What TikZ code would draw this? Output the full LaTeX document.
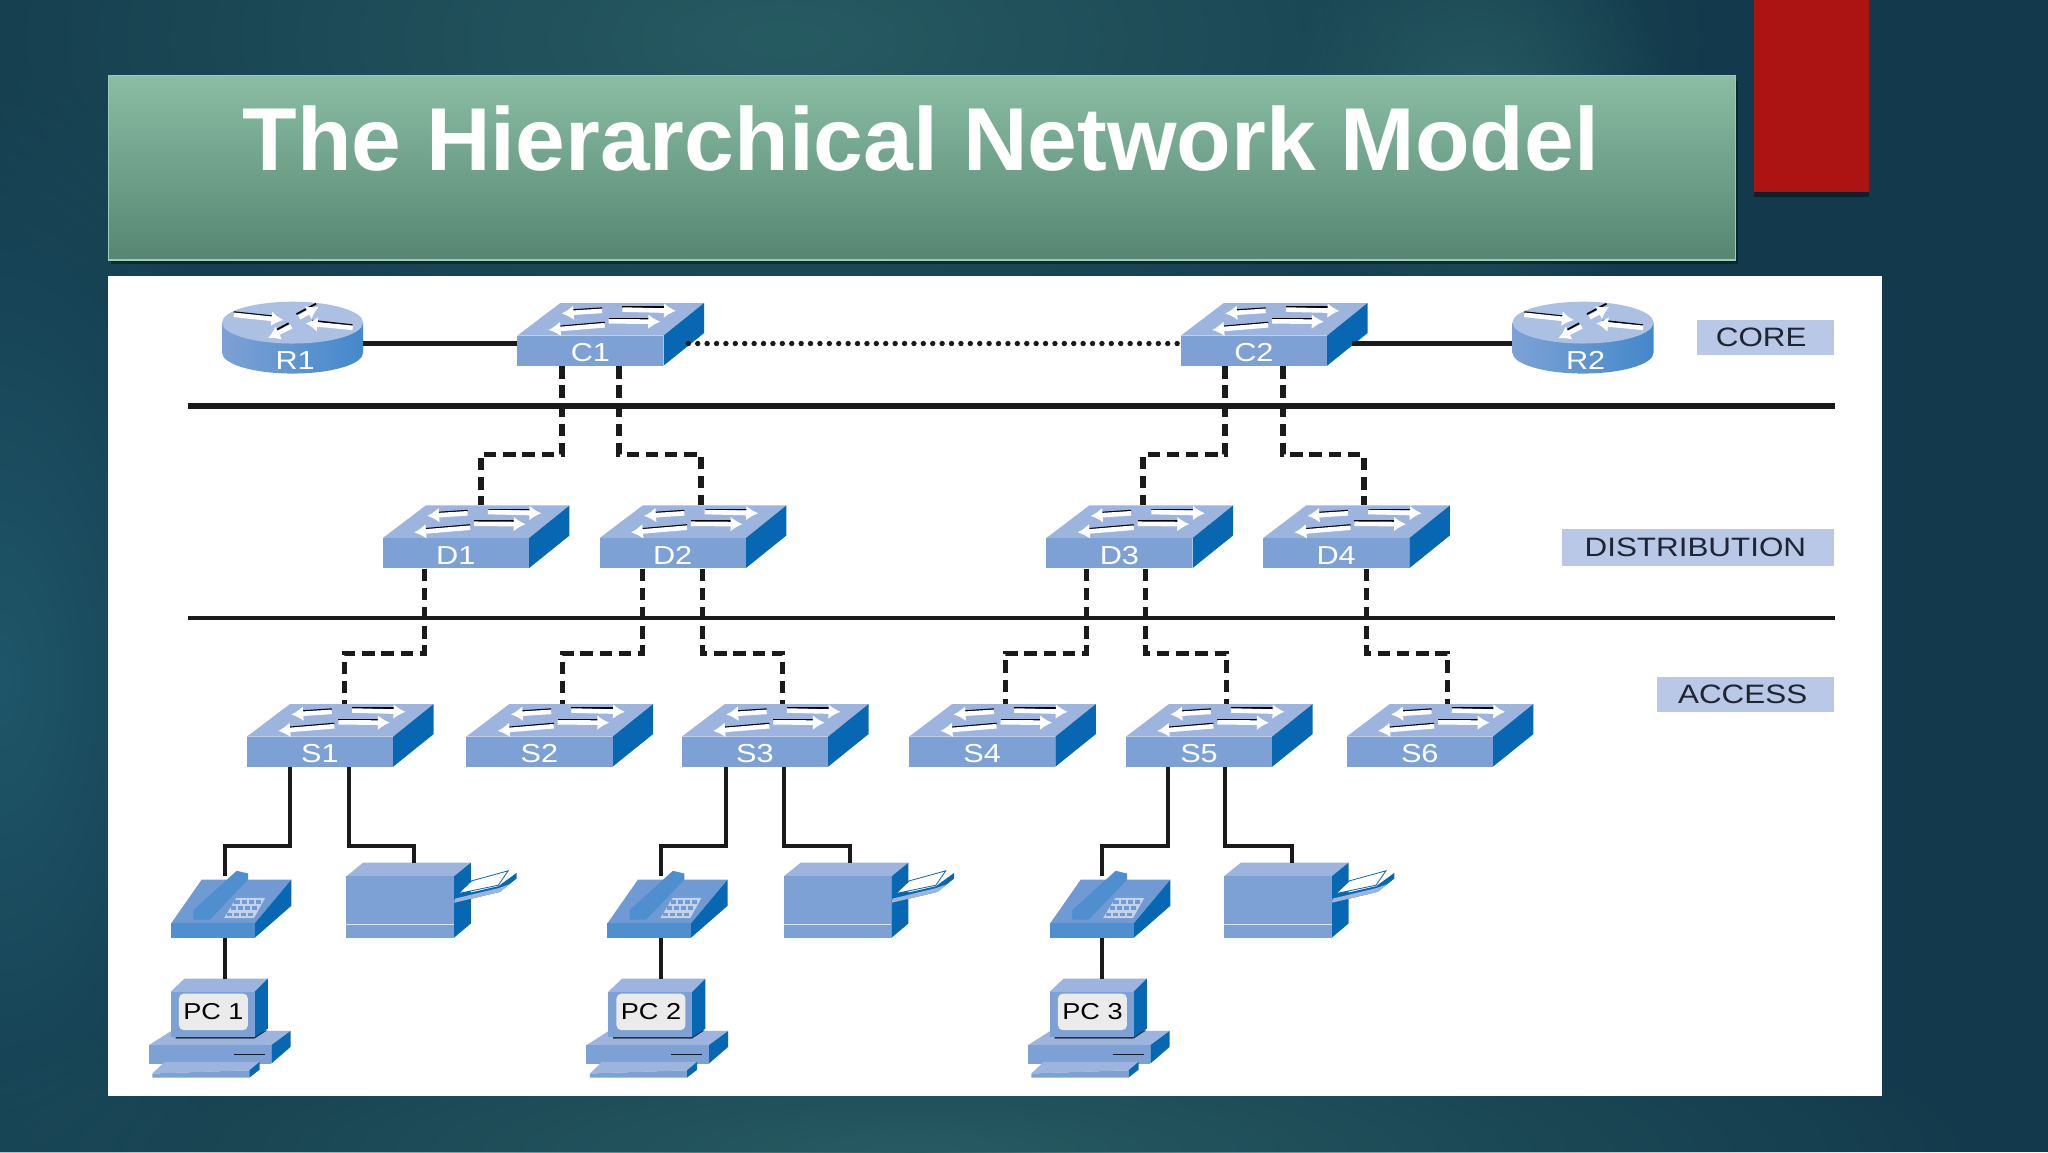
\documentclass[tikz,border=0pt]{standalone}
\usepackage{xcolor}
\usepackage{fontspec}
\setmainfont{Liberation Sans}
\newfontfamily\wideface[FakeStretch=1.18]{Liberation Sans}
\usetikzlibrary{arrows.meta}
\usetikzlibrary{fadings}

\definecolor{slidedark}{HTML}{133A4C}
\definecolor{slideglow}{HTML}{275B62}
\definecolor{sideglow}{HTML}{1F5669}
\definecolor{titletop}{HTML}{8ABDA4}
\definecolor{titlebot}{HTML}{568672}
\definecolor{titleedge}{HTML}{9CCBB6}
\definecolor{redtab}{HTML}{AB1413}
\definecolor{netfront}{HTML}{7DA1D5}
\definecolor{nettop}{HTML}{9DB5DE}
\definecolor{netside}{HTML}{0767B2}
\definecolor{phonefront}{HTML}{4F8ECF}
\definecolor{phonetop}{HTML}{709AD3}
\definecolor{tagfill}{HTML}{B8C8E6}
\definecolor{tagtext}{HTML}{1F2433}
\definecolor{wire}{HTML}{1A1A1A}

\tikzfading[name=glowfade, inner color=transparent!0, outer color=transparent!100]

\tikzset{
  front/.style={fill=netfront},
  topface/.style={fill=nettop},
  sideface/.style={fill=netside},
  devlabel/.style={inner sep=0pt, text=white, font=\wideface\fontsize{13}{15}\selectfont},
  tag/.style={fill=tagfill, text=tagtext, inner sep=0pt, font=\wideface\fontsize{13.3}{15}\selectfont},
  coredash/.style={wire, line width=2.9pt, dash pattern=on 6.2pt off 3.4pt},
  dashlink/.style={wire, line width=2.5pt, dash pattern=on 6.2pt off 3.4pt},
  dotlink/.style={wire, line width=2.7pt, line cap=round, dash pattern=on 0pt off 4.7pt},
  solidlink/.style={wire, line width=2.1pt},
  fatlink/.style={wire, line width=2.5pt},
  rule/.style={wire, line width=3.2pt},
  thinrule/.style={wire, line width=2.3pt},
  whitearrow/.style={white, line width=2.3pt, -{Latex[length=6pt,width=7.5pt]}},
  blackedge/.style={black, line width=.9pt}
}

% four crossing arrows on top of a switch
\newcommand{\switcharrows}{
  \draw[blackedge] (65,-44) -- (42,-42.5);
  \draw[whitearrow] (65,-42) -- (34,-40);
  \draw[blackedge] (80.5,-45) -- (114,-45);
  \draw[whitearrow] (80.5,-43) -- (121.5,-42);
  \draw[blackedge] (67,-33) -- (32,-30);
  \draw[whitearrow] (67,-31) -- (24,-27.4);
  \draw[blackedge] (70,-36) -- (102,-36);
  \draw[whitearrow] (70,-34) -- (109.5,-33.7);
}

% name, left of the front face, bottom of the front face, text
\newcommand{\netswitch}[4]{
  \begin{scope}[shift={(#2,#3)}]
    \fill[topface] (0,-23) -- (33,-48) -- (143,-48) -- (112,-23) -- cycle;
    \fill[sideface] (112,-23) -- (143,-48) -- (143,-25) -- (112,0) -- cycle;
    \node[devlabel, front, minimum width=73.1pt, minimum height=15pt] (#1) at (56,-11.5)
      {\raisebox{-5.5pt}[0pt][0pt]{#4}};
    \coordinate (#1T) at (70,-48);
    \coordinate (#1S) at (131,-17);
    \switcharrows
  \end{scope}
}

% name, centre, height of the link, text
\newcommand{\netrouter}[4]{
  \begin{scope}[shift={(#2,#3)}]
    \shade[left color=netfront, middle color=nettop, right color=phonefront!85!netside]
      (-54,-16) -- (-54,7) arc[start angle=180, end angle=0, x radius=54, y radius=16] -- (54,-16) -- cycle;
    \fill[fill=nettop!85!white] (0,-16) ellipse [x radius=54, y radius=16];
    \draw[blackedge] (-45,-24) -- (-12,-20.5);
    \draw[whitearrow] (-45,-22) -- (-7,-18);
    \draw[blackedge] (3,-22.5) -- (18,-30.5);
    \draw[whitearrow] (5,-20) -- (20,-28);
    \draw[blackedge] (46,-14) -- (15,-17.5);
    \draw[whitearrow] (46,-12) -- (10,-15.5);
    \draw[blackedge] (-3,-15.5) -- (-14,-9.5);
    \draw[whitearrow] (-1,-13) -- (-19,-4);
    \node[devlabel, minimum width=70.5pt, minimum height=30pt] (#1) at (0,0)
      {\kern2.6pt\raisebox{-13pt}[0pt][0pt]{#4}};
  \end{scope}
}

% name, front left, front bottom
\newcommand{\netphone}[3]{
  \begin{scope}[shift={(#2,#3)}]
    \fill[phonetop] (0,-11) -- (23.4,-44.5) -- (92,-44.5) -- (64,-11) -- cycle;
    \fill[sideface] (64,-11) -- (92,-44.5) -- (92,-24.5) -- (64,0) -- cycle;
    \node[fill=phonefront, inner sep=0pt, minimum width=41.8pt, minimum height=7.2pt] (#1) at (32,-5.5) {};
    \coordinate (#1T) at (41,-47);
    \fill[phonefront] (17,-21.2) -- (17,-14) -- (29.7,-14) -- (59,-44.6) -- (59,-49.2)
      -- (50.2,-51.3) -- cycle;
    \fill[nettop!60!white] (40.5,-15) -- (63.4,-15) -- (72,-30.5) -- (50,-30.5) -- cycle;
    \foreach \row in {0,1,2}
      \foreach \col in {0,1,2,3}
        \fill[phonetop] ({42.5+\col*5.4+\row*3},{-16.5-\row*4.8}) rectangle ++(4,-2.8);
  \end{scope}
}

% name, front left, front bottom
\newcommand{\netprinter}[3]{
  \begin{scope}[shift={(#2,#3)}]
    \fill[topface] (0,-47) -- (13,-57.5) -- (95.5,-57.5) -- (82.5,-47) -- cycle;
    \fill[sideface] (82.5,-47) -- (95.5,-57.5) -- (95.5,-11) -- (82.5,0) -- cycle;
    \node[front, inner sep=0pt, minimum width=53.9pt, minimum height=30.7pt] (#1) at (41.25,-23.5) {};
    \coordinate (#1T) at (50,-57.5);
    \draw[white!70!netfront, line width=.6pt] (0,-10.3) -- (82.5,-10.3);
    \fill[netside] (82.6,-26.8) -- (117.8,-35.2) -- (130.5,-45.4) -- (130.5,-49.7)
      -- (116.5,-39.5) -- (83.3,-31.9) -- cycle;
    \fill[nettop] (82.6,-26.8) -- (117.8,-35.2) -- (125,-41) -- (116.5,-38) -- (83.3,-30) -- cycle;
    \filldraw[fill=white, draw=netside, line width=.4pt] (85.9,-33.9) -- (116.5,-40.3) -- (124.1,-51.3) -- (96.1,-43.6) -- cycle;
  \end{scope}
}

% name, left of the case, bottom of the keyboard, text
\newcommand{\netpc}[4]{
  \begin{scope}[shift={(#2,#3)}]
    \fill[topface] (0,-24.8) -- (17.1,-35.7) -- (108.5,-35.7) -- (93.7,-24.8) -- cycle;
    \fill[sideface] (93.7,-24.8) -- (108.5,-35.7) -- (108.5,-23.5) -- (93.7,-10.7) -- cycle;
    \fill[front] (0,-24.8) rectangle (93.7,-10.7);
    \draw[wire, line width=.6pt] (64.8,-17.9) -- (88.6,-17.9);
    \fill[topface] (2.6,-3.1) -- (12,-12) -- (84.7,-12) -- (77,-5.6) -- cycle;
    \fill[front] (2.6,-3.1) -- (77,-5.6) -- (77,0) -- (2.6,0) -- cycle;
    \fill[sideface] (77,-5.6) -- (84.7,-12) -- (84.7,-6) -- (77,0) -- cycle;
    \fill[wire!85!nettop] (20.4,-29.9) -- (80.9,-29.9) -- (90.6,-36.2) -- (80,-36.2) -- (20.4,-31) -- cycle;
    \fill[topface] (16.6,-65.6) -- (27.3,-75.8) -- (91.1,-75.8) -- (80.9,-65.6) -- cycle;
    \fill[sideface] (80.9,-65.6) -- (91.1,-75.8) -- (91.1,-37.5) -- (80.9,-31.1) -- cycle;
    \fill[front] (16.6,-65.6) rectangle (80.9,-31.1);
    \node[rounded corners=2.5pt, fill=black!8, text=black, inner sep=0pt,
      minimum width=34.5pt, minimum height=18.3pt,
      font=\wideface\fontsize{11.5}{13}\selectfont] (#1) at (49.4,-50.3) {#4};
    \coordinate (#1T) at (50,-75.8);
  \end{scope}
}

\begin{document}
\begin{tikzpicture}[x=0.65306pt, y=-0.65306pt]
  \useasboundingbox (0,0) rectangle (1568,882);

  % slide
  \fill[slidedark] (0,0) rectangle (1568,882);
  \fill[slideglow, path fading=glowfade] (600,30) ellipse [x radius=720, y radius=300];
  \fill[slideglow, path fading=glowfade] (1130,90) ellipse [x radius=150, y radius=170];
  \fill[sideglow, path fading=glowfade] (0,520) ellipse [x radius=220, y radius=480];
  \fill[slideglow, path fading=glowfade] (700,882) ellipse [x radius=820, y radius=150];
  \fill[black!70!slidedark, opacity=.6] (1343,4) rectangle (1431,151);
  \fill[redtab] (1343,0) rectangle (1431,147);
  \fill[black!70!slidedark, opacity=.5] (85,62) rectangle (1331,202);
  \shade[top color=titletop, bottom color=titlebot, draw=titleedge, line width=.6pt]
    (83,58) rectangle (1329,199);
  \node[inner sep=0pt, text=white, font=\bfseries\fontsize{44.7}{50}\selectfont] (title) at (705,106)
    {The Hierarchical Network Model};
  \fill[white] (83,211) rectangle (1441,839);

  % level rules
  \draw[rule] (144,311) -- (1405,311);
  \draw[thinrule] (144,473) -- (1405,473);

  % level tags
  \node[tag, minimum width=68.6pt, minimum height=17.6pt] (core) at (1351.5,258.5) {CORE\kern4pt};
  \node[tag, minimum width=135.8pt, minimum height=18.3pt] (distribution) at (1300,419) {DISTRIBUTION\kern2.6pt};
  \node[tag, minimum width=88.2pt, minimum height=17.6pt] (access) at (1336.5,531.5) {ACCESS\kern3pt};

  % devices
  \netrouter{R1}{224}{263}{R1}
  \netrouter{R2}{1212}{263}{R2}
  \netswitch{C1}{396}{280}{C1}
  \netswitch{C2}{904}{280}{C2}
  \netswitch{D1}{293}{435}{D1}
  \netswitch{D2}{459}{435}{D2}
  \netswitch{D3}{801}{435}{D3}
  \netswitch{D4}{967}{435}{D4}
  \netswitch{S1}{189}{587}{S1}
  \netswitch{S2}{357}{587}{S2}
  \netswitch{S3}{522}{587}{S3}
  \netswitch{S4}{696}{587}{S4}
  \netswitch{S5}{862}{587}{S5}
  \netswitch{S6}{1031}{587}{S6}
  \netphone{Ph1}{131}{718}
  \netphone{Ph2}{465}{718}
  \netphone{Ph3}{804}{718}
  \netprinter{Pr1}{265}{718}
  \netprinter{Pr2}{600}{718}
  \netprinter{Pr3}{937}{718}
  \netpc{PC1}{114}{825}{PC 1}
  \netpc{PC2}{449}{825}{PC 2}
  \netpc{PC3}{787}{825}{PC 3}

  % core links
  \draw[fatlink] (R1.east) -- (C1.west |- R1.east);
  \draw[dotlink] (C1S) -- (C2.west |- C1S);
  \draw[fatlink] (C2S) -- (R2.west |- C2S);

  % core to distribution
  \draw[coredash] (C1.south -| 430,0) |- (368,348) -- (D1T -| 368,0);
  \draw[coredash] (C1.south -| 474,0) |- (537,348) -- (D2T -| 537,0);
  \draw[coredash] (C2.south -| 938,0) |- (875,348) -- (D3T -| 875,0);
  \draw[coredash] (C2.south -| 982,0) |- (1044,348) -- (D4T -| 1044,0);

  % distribution to access
  \draw[dashlink] (D1.south -| 325,0) |- (264,500) -- (S1T -| 264,0);
  \draw[dashlink] (D2.south -| 492,0) |- (431,500) -- (S2T -| 431,0);
  \draw[dashlink] (D2.south -| 538,0) |- (599,500) -- (S3T -| 599,0);
  \draw[dashlink] (D3.south -| 832,0) |- (770,500) -- (S4T -| 770,0);
  \draw[dashlink] (D3.south -| 877,0) |- (939,500) -- (S5T -| 939,0);
  \draw[dashlink] (D4.south -| 1046,0) |- (1108,500) -- (S6T -| 1108,0);

  % access to end devices
  \draw[solidlink] (S1.south -| 222,0) |- (172,648) -- (Ph1T -| 172,0);
  \draw[solidlink] (S1.south -| 267,0) |- (317,648) -- (Pr1T -| 317,0);
  \draw[solidlink] (Ph1.south -| 172,0) -- (PC1T -| 172,0);
  \draw[solidlink] (S3.south -| 556,0) |- (506,648) -- (Ph2T -| 506,0);
  \draw[solidlink] (S3.south -| 600,0) |- (651,648) -- (Pr2T -| 651,0);
  \draw[solidlink] (Ph2.south -| 506,0) -- (PC2T -| 506,0);
  \draw[solidlink] (S5.south -| 894,0) |- (844,648) -- (Ph3T -| 844,0);
  \draw[solidlink] (S5.south -| 938,0) |- (989,648) -- (Pr3T -| 989,0);
  \draw[solidlink] (Ph3.south -| 844,0) -- (PC3T -| 844,0);
\end{tikzpicture}
\end{document}
